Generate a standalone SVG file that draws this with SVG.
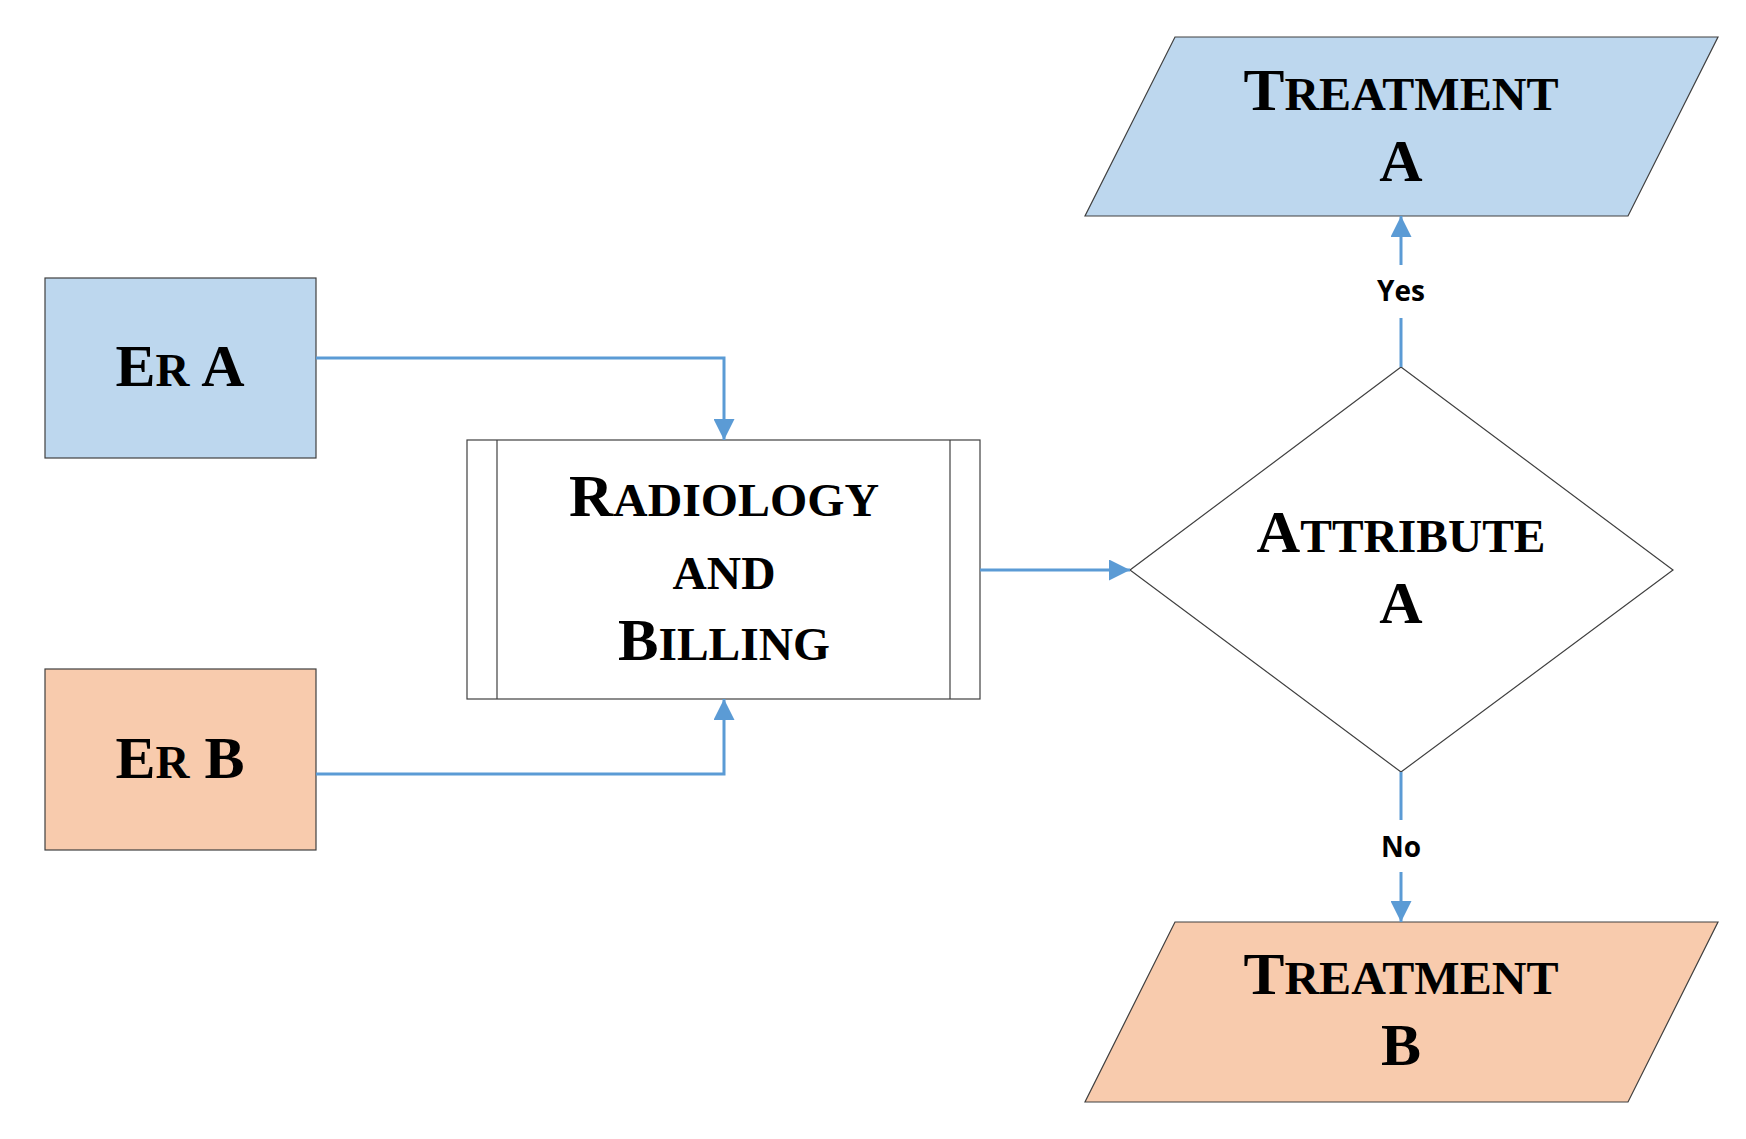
<svg xmlns="http://www.w3.org/2000/svg" width="1746" height="1139" viewBox="0 0 1746 1139">
<style>
.n{stroke:#404040;stroke-width:1.2}
.t{font-family:"Liberation Serif",serif;font-weight:bold;font-size:60px;fill:#000;text-anchor:middle}
.s{font-size:47px}
.c{fill:none;stroke:#5B9BD5;stroke-width:3}
.l{font-family:"Open Sans","Liberation Sans",sans-serif;font-weight:bold;font-size:28px;fill:#000;text-anchor:middle}
</style>
<defs><marker id="a" viewBox="0 0 10 10" refX="10" refY="5" markerWidth="7" markerHeight="7" orient="auto" markerUnits="strokeWidth"><path d="M0,0L10,5L0,10z" fill="#5B9BD5"/></marker></defs>
<rect width="1746" height="1139" fill="#fff"/>
<g id="erA"><rect class="n" x="45" y="278" width="271" height="180" fill="#BDD7EE"/><text class="t" x="180" y="386" textLength="129" lengthAdjust="spacingAndGlyphs">E<tspan class="s">R</tspan> A</text></g>
<g id="erB"><rect class="n" x="45" y="669" width="271" height="181" fill="#F8CBAD"/><text class="t" x="180" y="778" textLength="129" lengthAdjust="spacingAndGlyphs">E<tspan class="s">R</tspan> B</text></g>
<g id="radiology"><rect class="n" x="467" y="440" width="513" height="259" fill="#fff"/><line class="n" x1="497" y1="440" x2="497" y2="699"/><line class="n" x1="950" y1="440" x2="950" y2="699"/>
<text class="t" x="724" y="516" textLength="310" lengthAdjust="spacingAndGlyphs">R<tspan class="s">ADIOLOGY</tspan></text>
<text class="t s" x="724" y="589" textLength="103" lengthAdjust="spacingAndGlyphs">AND</text>
<text class="t" x="724" y="660" textLength="212" lengthAdjust="spacingAndGlyphs">B<tspan class="s">ILLING</tspan></text></g>
<g id="attribute"><polygon class="n" points="1130,570 1401,367 1673,570 1401,772" fill="#fff"/>
<text class="t" x="1401" y="552" textLength="289" lengthAdjust="spacingAndGlyphs">A<tspan class="s">TTRIBUTE</tspan></text><text class="t" x="1401" y="623">A</text></g>
<g id="treatA"><polygon class="n" points="1175,37 1718,37 1628,216 1085,216" fill="#BDD7EE"/>
<text class="t" x="1401" y="110" textLength="315" lengthAdjust="spacingAndGlyphs">T<tspan class="s">REATMENT</tspan></text><text class="t" x="1401" y="181">A</text></g>
<g id="treatB"><polygon class="n" points="1175,922 1718,922 1628,1102 1085,1102" fill="#F8CBAD"/>
<text class="t" x="1401" y="994" textLength="315" lengthAdjust="spacingAndGlyphs">T<tspan class="s">REATMENT</tspan></text><text class="t" x="1401" y="1065">B</text></g>
<g id="connectors">
<polyline class="c" points="316,358 724,358 724,440" marker-end="url(#a)"/>
<polyline class="c" points="316,774 724,774 724,699" marker-end="url(#a)"/>
<line class="c" x1="980" y1="570" x2="1130" y2="570" marker-end="url(#a)"/>
<line class="c" x1="1401" y1="367" x2="1401" y2="318"/>
<line class="c" x1="1401" y1="265" x2="1401" y2="216" marker-end="url(#a)"/>
<line class="c" x1="1401" y1="772" x2="1401" y2="820"/>
<line class="c" x1="1401" y1="872" x2="1401" y2="922" marker-end="url(#a)"/>
<text class="l" x="1401" y="301">Yes</text>
<text class="l" x="1401" y="857">No</text>
</g>
</svg>
